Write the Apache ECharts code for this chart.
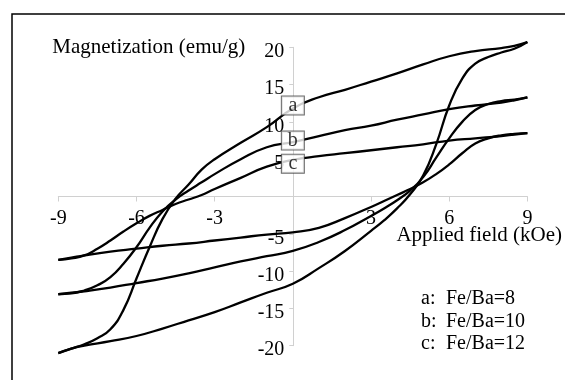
<!DOCTYPE html>
<html>
<head>
<meta charset="utf-8">
<script src="https://cdn.jsdelivr.net/npm/echarts@6/dist/echarts.min.js"></script>
<style>
html,body{margin:0;padding:0;background:#fff;}
#chart{width:565px;height:380px;}
</style>
</head>
<body>
<div id="chart"></div>
<script>
// Applied field (kOe) for the descending (upper) and ascending (lower) branches
const fieldDown = [9, 8.5, 8, 7, 6, 5, 4, 3, 2, 1, 0, -1, -2, -3, -3.5, -4, -4.5, -5, -5.5, -6, -6.5, -7, -7.5, -8, -8.5, -9];
const fieldUp   = [-9, -8.5, -8, -7, -6, -5, -4, -3, -2, -1, 0, 1, 2, 3, 3.5, 4, 4.5, 5, 5.5, 6, 6.5, 7, 7.5, 8, 8.5, 9];

// Magnetization (emu/g)
const aDown = [20.7, 20.2, 19.9, 19.5, 18.8, 17.7, 16.5, 15.4, 14.3, 13.3, 11.8, 9.3, 7.2, 5.0, 3.6, 1.6, -0.3, -3.0, -6.8, -11.0, -15.2, -17.8, -19.0, -19.8, -20.4, -21.0];
const aUp   = [-21.0, -20.4, -20.0, -19.4, -18.7, -17.7, -16.6, -15.5, -14.2, -12.9, -11.7, -9.6, -7.3, -4.6, -3.2, -1.6, 0.3, 2.8, 7.0, 12.2, 15.8, 17.8, 18.7, 19.3, 19.8, 20.7];
const bDown = [13.3, 12.9, 12.6, 12.2, 11.7, 11.0, 10.3, 9.5, 8.9, 8.1, 7.3, 6.6, 5.0, 3.0, 1.9, 0.8, -0.4, -2.0, -4.2, -6.8, -9.0, -10.8, -11.9, -12.6, -13.0, -13.1];
const bUp   = [-13.1, -12.9, -12.7, -12.2, -11.6, -11.0, -10.3, -9.5, -8.7, -8.0, -7.3, -6.1, -4.5, -2.6, -1.6, -0.5, 0.8, 2.6, 5.2, 7.8, 10.0, 11.6, 12.4, 12.8, 13.0, 13.3];
const cDown = [8.5, 8.3, 8.1, 7.8, 7.5, 7.0, 6.6, 6.2, 5.8, 5.4, 4.9, 4.0, 2.5, 1.0, 0.2, -0.4, -1.0, -1.8, -2.6, -3.6, -4.7, -5.9, -7.0, -7.9, -8.3, -8.5];
const cUp   = [-8.5, -8.2, -7.9, -7.4, -7.0, -6.6, -6.3, -5.9, -5.5, -5.1, -4.8, -4.2, -2.9, -1.4, -0.6, 0.2, 1.0, 1.9, 3.0, 4.3, 5.8, 7.1, 7.8, 8.2, 8.4, 8.5];

// Curve tags placed at zero field
const tagLetters = ['a', 'b', 'c'];
const tagValues  = [12.2, 7.5, 4.4];

// Legend text
const legendKeys  = ['a:', 'b:', 'c:'];
const legendTexts = ['Fe/Ba=8', 'Fe/Ba=10', 'Fe/Ba=12'];

// Axes
const xTicks = [-9, -6, -3, 0, 3, 6, 9];
const yTicks = [-20, -15, -10, -5, 0, 5, 10, 15, 20];
const xName = 'Applied field (kOe)';
const yName = 'Magnetization (emu/g)';

const FONT = '"Liberation Serif", "Times New Roman", serif';
const pair = (xs, ys) => xs.map((x, i) => [x, ys[i]]);

const branches = [
  ['a-down', fieldDown, aDown], ['a-up', fieldUp, aUp],
  ['b-down', fieldDown, bDown], ['b-up', fieldUp, bUp],
  ['c-down', fieldDown, cDown], ['c-up', fieldUp, cUp]
];

const series = branches.map(([name, xs, ys]) => ({
  name, type: 'line', data: pair(xs, ys), smooth: 0.5, clip: false,
  showSymbol: false, symbol: 'none', silent: true,
  lineStyle: { color: '#000', width: 2.3 }, z: 3
}));

series.push({
  name: 'tags', type: 'scatter', symbolSize: 0, silent: true, z: 5, clip: false,
  data: tagValues.map((v, i) => ({ value: [0, v], name: tagLetters[i] })),
  label: {
    show: true, position: 'inside', formatter: p => p.name,
    fontFamily: FONT, fontSize: 20, color: '#000',
    backgroundColor: '#fff', borderColor: '#444', borderWidth: 1,
    width: 22, height: 17, lineHeight: 17, align: 'center', verticalAlign: 'middle', padding: [0, 0, 1, 0]
  }
});

const graphic = [
  { type: 'rect', shape: { x: 12, y: 14, width: 700, height: 500 },
    style: { fill: 'none', stroke: '#000', lineWidth: 1.5 }, silent: true, z: 10 }
];
legendKeys.forEach((k, i) => {
  graphic.push({ type: 'text', left: 421, top: 289 + i * 22.5,
    style: { text: k, font: '20px ' + FONT, fill: '#000' } });
  graphic.push({ type: 'text', left: 446, top: 289 + i * 22.5,
    style: { text: legendTexts[i], font: '20px ' + FONT, fill: '#000' } });
});

const GRID = { left: 58.3, right: 36.7, top: 47.3, bottom: 34.3 };
const plotW = 565 - GRID.left - GRID.right;
const plotH = 380 - GRID.top - GRID.bottom;

const chart = echarts.init(document.getElementById('chart'), null, { renderer: 'canvas' });
chart.setOption({
  animation: false,
  backgroundColor: '#fff',
  grid: Object.assign({ containLabel: false }, GRID),
  xAxis: {
    type: 'value', min: xTicks[0], max: xTicks[xTicks.length - 1], interval: 3,
    position: 'bottom', offset: -plotH / 2,
    name: xName, nameLocation: 'end', nameGap: -131, nameMoveOverlap: false,
    nameTextStyle: { fontFamily: FONT, fontSize: 21, color: '#000', align: 'left', verticalAlign: 'top', padding: [28, 0, 0, 0] },
    axisLine: { onZero: false, lineStyle: { color: '#d0d0d0', width: 1 } },
    axisTick: { show: true, length: 5, lineStyle: { color: '#d0d0d0' } },
    axisLabel: { fontFamily: FONT, fontSize: 20, color: '#000', margin: 12,
      formatter: v => (v === 0 ? '' : String(v)) },
    splitLine: { show: false }
  },
  yAxis: {
    type: 'value', min: yTicks[0], max: yTicks[yTicks.length - 1], interval: 5,
    position: 'left', offset: -plotW / 2,
    name: yName, nameLocation: 'end', nameGap: 0, nameMoveOverlap: false,
    nameTextStyle: { fontFamily: FONT, fontSize: 21, color: '#000', align: 'right', verticalAlign: 'middle', padding: [0, 48, 0, 0] },
    axisLine: { onZero: false, lineStyle: { color: '#d0d0d0', width: 1 } },
    axisTick: { show: true, length: 4, lineStyle: { color: '#d0d0d0' } },
    axisLabel: { fontFamily: FONT, fontSize: 20, color: '#000', margin: 9,
      verticalAlign: 'top', lineHeight: 9,
      formatter: v => (v === 0 ? '' : String(v)) },
    splitLine: { show: false }
  },
  series,
  graphic
});
</script>
</body>
</html>
